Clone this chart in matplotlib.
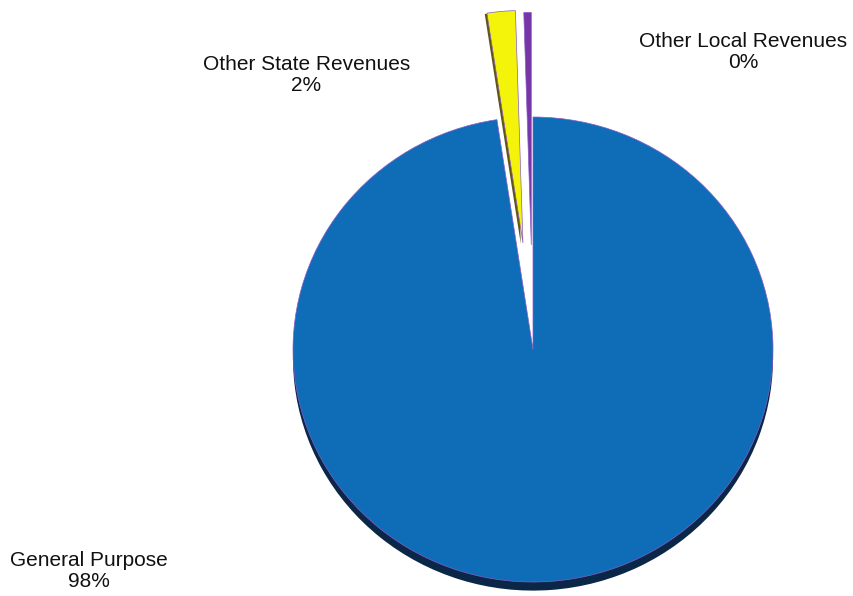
import numpy as np
from matplotlib import pyplot as plt

# revenue shares (percent)
categories = ["General Purpose", "Other State Revenues", "Other Local Revenues"]
shares = [97.6, 1.9, 0.5]
pct_labels = ["98%", "2%", "0%"]

top_colors = ["#0F6DB8", "#F4F40A", "#7636A8"]
side_colors = ["#0B2748", "#5F5514", "#3A1860"]
explode = [0.0, 0.46, 0.45]

plt.rcParams["font.family"] = ["Liberation Sans", "DejaVu Sans"]

fig = plt.figure(figsize=(8.54, 5.96), dpi=100)
ax = fig.add_axes([0, 0, 1, 1])

# 3d-ish rim: dark copy under the blue slice, shifted down
rim, _ = ax.pie(shares, colors=side_colors, explode=explode, startangle=90,
                counterclock=False, center=(0, -0.037),
                wedgeprops=dict(linewidth=0))
for w in rim[1:]:
    w.set_visible(False)

# side face of the exploded yellow slice
side, _ = ax.pie(shares, colors=side_colors, explode=explode, startangle=90,
                 counterclock=False, center=(-0.009, -0.004),
                 wedgeprops=dict(linewidth=0))
side[0].set_visible(False)
side[2].set_visible(False)

wedges, _ = ax.pie(shares, colors=top_colors, explode=explode, startangle=90,
                   counterclock=False,
                   wedgeprops=dict(edgecolor="#8A5CC8", linewidth=0.5))

# slightly squashed ellipse like the original
ax.set_aspect("auto")
ax.set_xlim(-533 / 240, 321 / 240)
ax.set_ylim(-246.5 / 232.5, 349.5 / 232.5)
ax.axis("off")

label_pos = [(89, 571), (306.5, 75), (743.5, 52)]   # pixel positions from the picture
for name, pct, (px, py) in zip(categories, pct_labels, label_pos):
    fig.text(px / 854, 1 - py / 596, name + "\n" + pct, ha="center", va="center",
             fontsize=15, color="#111111", linespacing=1.1)

fig.savefig("out.png", dpi=100)
